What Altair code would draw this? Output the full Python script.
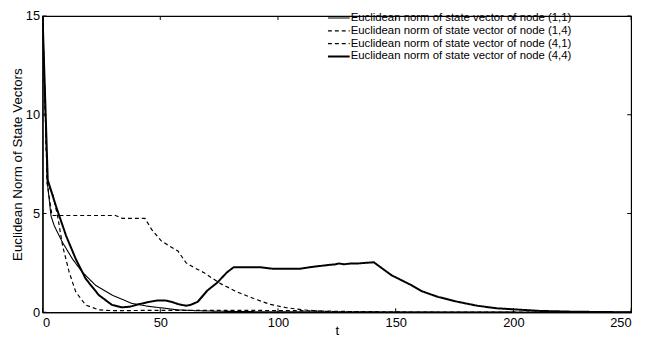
import altair as alt
import pandas as pd

# ---- data ----
names = [
    "Euclidean norm of state vector of node (1,1)",
    "Euclidean norm of state vector of node (1,4)",
    "Euclidean norm of state vector of node (4,1)",
    "Euclidean norm of state vector of node (4,4)",
]

t11 = [0, 2, 3.6, 5, 8.5, 12.7, 16.9, 22.5, 29.5, 37.9, 45, 50, 57.5, 65, 75, 90, 110, 150, 250]
v11 = [15, 6.6, 4.87, 4.37, 3.53, 2.7, 2.03, 1.37, 0.87, 0.45, 0.3, 0.23, 0.12, 0.08, 0.05, 0.03, 0.02, 0.01, 0.0]

t14 = [0, 2, 4, 10, 20, 31, 34, 43.5, 46.3, 50.5, 57.5, 61, 63.8, 68.6, 75.6, 82.6, 89.6, 96.6, 103.6, 110.6, 121.6, 135, 150, 250]
v14 = [15, 6.5, 4.9, 4.9, 4.9, 4.9, 4.75, 4.75, 4.2, 3.6, 3.1, 2.5, 2.3, 2.0, 1.45, 1.03, 0.7, 0.4, 0.23, 0.12, 0.03, 0.02, 0.01, 0.0]

t41 = [0, 2, 4.3, 6.4, 8.5, 11.3, 14.1, 18.3, 23.9, 30, 50, 80, 110, 130, 150, 170, 250]
v41 = [15, 6.5, 6.0, 4.87, 3.37, 2.03, 1.03, 0.37, 0.12, 0.08, 0.1, 0.1, 0.08, 0.04, 0.02, 0.0, 0.0]

t44 = [0, 2.2, 5.7, 10, 14.1, 18.3, 23.9, 29.5, 33.7, 37, 40.7, 45, 49, 52, 54.7, 58, 61, 63, 65.9, 70, 74.2,
       78.4, 81.2, 92.4, 98, 109.2, 113.4, 121.8, 124, 126, 128, 131, 134, 137, 140.7, 148.3, 156.7, 161,
       167.9, 176.3, 184.7, 193, 200, 211, 225, 240, 250]
v44 = [15, 6.7, 5.37, 3.87, 2.7, 1.7, 0.87, 0.37, 0.25, 0.28, 0.4, 0.52, 0.6, 0.6, 0.53, 0.4, 0.33, 0.38, 0.53, 1.1, 1.5,
       2.03, 2.28, 2.28, 2.2, 2.2, 2.28, 2.4, 2.42, 2.47, 2.43, 2.47, 2.47, 2.5, 2.53, 1.87, 1.37, 1.07,
       0.78, 0.53, 0.33, 0.2, 0.15, 0.07, 0.03, 0.01, 0.0]

x_ticks = [0, 50, 100, 150, 200, 250]
y_ticks = [0, 5, 10, 15]

# ---- build table ----
rows = []
for name, ts, vs in zip(names, [t11, t14, t41, t44], [v11, v14, v41, v44]):
    for i, (t, v) in enumerate(zip(ts, vs)):
        rows.append({"t": t, "v": v, "series": name, "order": i})
df = pd.DataFrame(rows)
leg_df = pd.DataFrame({"series": names})

W, H = 596, 300
FONT = "Liberation Sans"

xscale = alt.Scale(domain=[0, 250], nice=False, zero=False)
yscale = alt.Scale(domain=[0, 15], nice=False, zero=False)
dash_scale = alt.Scale(type="ordinal", domain=names, range=[[1, 0], [4, 3], [4, 3], [1, 0]])
width_scale = alt.Scale(type="ordinal", domain=names, range=[1.1, 1.2, 1.2, 2.0])
leg_y = alt.Scale(type="point", domain=names, range=[2, 41], padding=0)

lines = alt.Chart(df).mark_line(color="black", clip=True).encode(
    x=alt.X("t:Q", scale=xscale,
            axis=alt.Axis(values=x_ticks, title="t", grid=False, ticks=False, tickSize=0,
                          labelPadding=4, titleY=23, titleBaseline="alphabetic", format="d")),
    y=alt.Y("v:Q", scale=yscale,
            axis=alt.Axis(values=y_ticks, title="Euclidean Norm of State Vectors", grid=False,
                          ticks=False, tickSize=0, labelPadding=3, titlePadding=1, format="d")),
    order="order:Q",
    detail="series:N",
    strokeDash=alt.StrokeDash("series:N", scale=dash_scale, legend=None),
    strokeWidth=alt.StrokeWidth("series:N", scale=width_scale, legend=None),
)

# legend drawn inside the plot (top right), MATLAB style without a box
leg_sym = alt.Chart(leg_df).mark_rule(color="black").encode(
    x=alt.value(289), x2=alt.value(311),
    y=alt.Y("series:N", scale=leg_y, axis=None),
    strokeDash=alt.StrokeDash("series:N", scale=dash_scale, legend=None),
    strokeWidth=alt.StrokeWidth("series:N", scale=width_scale, legend=None),
)
leg_txt = alt.Chart(leg_df).mark_text(align="left", baseline="middle", font=FONT,
                                      fontSize=11.5, color="black").encode(
    x=alt.value(312),
    y=alt.Y("series:N", scale=leg_y, axis=None),
    text="series:N",
)

xt = pd.DataFrame({"xt": x_ticks})
yt = pd.DataFrame({"yt": y_ticks})

tick_bottom = alt.Chart(xt).mark_rule(color="black", strokeWidth=1).encode(
    x=alt.X("xt:Q", scale=xscale), y=alt.value(H), y2=alt.value(H - 4))
tick_top = alt.Chart(xt).mark_rule(color="black", strokeWidth=1).encode(
    x=alt.X("xt:Q", scale=xscale), y=alt.value(0), y2=alt.value(4))
tick_left = alt.Chart(yt).mark_rule(color="black", strokeWidth=1).encode(
    y=alt.Y("yt:Q", scale=yscale, axis=None), x=alt.value(0), x2=alt.value(4))
tick_right = alt.Chart(yt).mark_rule(color="black", strokeWidth=1).encode(
    y=alt.Y("yt:Q", scale=yscale, axis=None), x=alt.value(W), x2=alt.value(W - 4))

chart = alt.layer(lines, tick_bottom, tick_top, tick_left, tick_right, leg_sym, leg_txt).resolve_scale(
    y="independent"
).properties(
    width=W, height=H,
    autosize=alt.AutoSizeParams(type="none"),
    padding={"left": 35, "top": 6, "right": 10, "bottom": 28},
).configure_view(
    stroke="black", strokeWidth=1.2
).configure_axis(
    labelFont=FONT, titleFont=FONT, labelFontSize=13, titleFontSize=13.5,
    titleFontWeight="normal", labelColor="black", titleColor="black",
    domainColor="black", domainWidth=1.2
)

chart.save("out.html", embed_options={"renderer": "svg", "actions": False})
